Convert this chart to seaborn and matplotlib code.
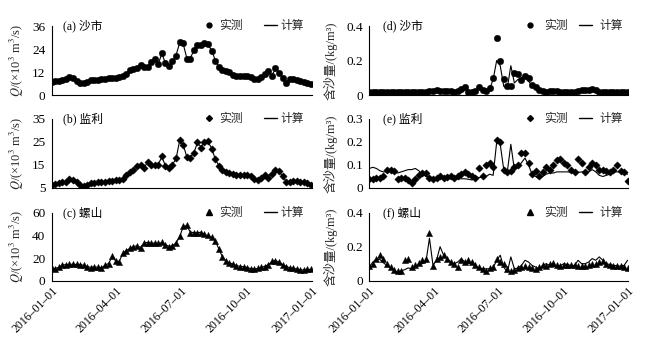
import numpy as np
import pandas as pd
import matplotlib
matplotlib.use("Agg")
import matplotlib.pyplot as plt
from matplotlib.lines import Line2D
import seaborn as sns

sns.set_theme(style="white")
plt.rcParams["font.family"] = ["Liberation Serif", "Noto Sans CJK SC"]
plt.rcParams["mathtext.fontset"] = "stix"
plt.rcParams["axes.unicode_minus"] = False

# ---------------- data (sampled every 5 days from 2016-01-01) ----------------
day_offsets = list(range(0, 366, 5))

q_shashi_obs = [7.0, 7.2, 7.5, 7.8, 8.2, 9.5, 9.0, 7.5, 6.3, 6.2,
                7.0, 7.6, 8.0, 8.0, 8.2, 8.5, 8.8, 8.8, 8.8, 9.2,
                10.0, 11.0, 12.8, 13.5, 14.0, 15.8, 14.5, 14.5, 17.0, 18.8,
                16.0, 22.0, 16.5, 15.0, 17.5, 20.5, 27.5, 27.0, 19.0, 19.0,
                23.5, 26.0, 26.0, 27.0, 26.5, 23.0, 18.0, 14.5, 13.0, 12.5,
                12.0, 10.5, 10.0, 10.0, 10.0, 10.0, 9.5, 8.5, 8.5, 9.5,
                11.0, 12.5, 10.0, 14.0, 11.5, 9.0, 6.5, 8.5, 8.5, 8.0,
                7.5, 7.0, 6.5, 6.0]
q_shashi_cal = [6.8, 7.1, 7.4, 7.9, 8.4, 9.3, 8.8, 7.2, 6.1, 6.3,
                7.1, 7.7, 7.9, 8.1, 8.3, 8.6, 8.7, 8.9, 8.9, 9.4,
                10.3, 11.4, 12.6, 13.3, 14.3, 15.5, 14.6, 14.8, 16.8, 18.5,
                16.3, 21.5, 16.8, 15.3, 17.2, 20.8, 27.0, 26.8, 19.5, 19.3,
                23.0, 25.6, 26.2, 26.8, 26.2, 23.4, 18.4, 14.8, 13.2, 12.4,
                11.8, 10.7, 10.2, 10.1, 9.9, 9.8, 9.3, 8.7, 8.6, 9.7,
                11.2, 12.2, 10.4, 13.6, 11.8, 9.2, 6.8, 8.3, 8.4, 7.9,
                7.4, 7.1, 6.6, 6.1]

q_jianli_obs = [6.5, 6.8, 7.2, 7.5, 7.8, 9.0, 8.5, 7.5, 6.5, 6.0,
                6.5, 7.0, 7.2, 7.5, 7.5, 7.8, 8.0, 8.2, 8.5, 8.5,
                9.0, 10.5, 12.0, 13.0, 14.5, 15.0, 13.5, 16.5, 15.0, 15.0,
                15.0, 19.0, 14.5, 13.5, 15.0, 18.0, 26.0, 23.5, 18.5, 18.0,
                20.0, 25.0, 22.5, 25.0, 25.5, 22.0, 17.5, 14.5, 13.0, 12.0,
                11.5, 11.0, 10.5, 10.5, 10.5, 10.5, 10.0, 9.0, 8.5, 9.5,
                10.5, 9.5, 11.0, 13.0, 12.5, 10.0, 7.5, 7.5, 8.0, 8.0,
                7.5, 7.5, 7.0, 6.5]
q_jianli_cal = [6.3, 6.9, 7.0, 7.6, 7.9, 8.8, 8.6, 7.3, 6.4, 6.1,
                6.6, 7.1, 7.3, 7.4, 7.6, 7.9, 8.1, 8.3, 8.4, 8.6,
                9.2, 10.8, 11.8, 13.2, 14.2, 14.8, 13.8, 16.2, 15.2, 14.8,
                15.3, 18.5, 14.8, 13.8, 15.3, 17.6, 25.5, 23.8, 18.8, 18.3,
                20.3, 24.5, 23.0, 24.6, 25.0, 22.4, 17.8, 14.8, 13.2, 12.1,
                11.6, 11.1, 10.6, 10.4, 10.6, 10.3, 9.8, 9.1, 8.7, 9.7,
                10.3, 9.8, 11.2, 12.7, 12.3, 10.2, 7.8, 7.6, 7.9, 8.1,
                7.6, 7.4, 7.1, 6.6]

q_luoshan_obs = [11.0, 10.5, 12.0, 13.5, 14.0, 14.5, 14.5, 14.5, 14.0, 14.0,
                 12.0, 11.5, 12.5, 12.0, 11.0, 14.0, 15.0, 22.0, 17.0, 16.5,
                 24.5, 26.5, 28.5, 30.0, 31.0, 29.0, 33.5, 33.5, 33.0, 33.0,
                 33.0, 34.0, 31.5, 30.0, 31.0, 33.0, 39.0, 48.0, 49.0, 42.5,
                 42.0, 42.5, 42.5, 41.0, 40.0, 38.5, 35.0, 28.0, 21.0, 17.0,
                 16.0, 14.5, 13.0, 12.5, 12.5, 11.5, 10.5, 10.0, 11.0, 12.0,
                 12.5, 14.0, 17.0, 17.5, 16.5, 14.0, 12.5, 11.5, 11.0, 10.0,
                 9.5, 9.5, 10.0, 10.0]
q_luoshan_cal = [10.8, 10.8, 11.8, 13.8, 14.2, 14.3, 14.6, 14.3, 14.2, 13.6,
                 12.3, 11.8, 12.3, 11.8, 11.3, 13.6, 15.2, 21.0, 17.5, 16.8,
                 24.0, 26.8, 28.3, 30.3, 30.6, 29.4, 33.2, 33.8, 32.8, 33.3,
                 32.7, 33.6, 31.8, 30.4, 30.8, 33.4, 38.5, 47.5, 48.6, 43.0,
                 42.3, 42.2, 42.8, 40.8, 39.6, 38.2, 35.4, 28.5, 21.5, 17.4,
                 15.8, 14.7, 13.2, 12.7, 12.3, 11.6, 10.7, 10.2, 10.8, 11.8,
                 12.7, 14.2, 16.7, 17.8, 16.3, 14.3, 12.7, 11.3, 11.2, 10.2,
                 9.6, 9.4, 9.9, 10.1]

s_shashi_obs = [0.02, 0.02, 0.02, 0.02, 0.02, 0.02, 0.018, 0.018, 0.018, 0.018,
                0.018, 0.018, 0.018, 0.018, 0.02, 0.02, 0.02, 0.022, 0.025, 0.03,
                0.025, 0.025, 0.025, 0.022, 0.018, 0.025, 0.035, 0.045, 0.02, 0.02,
                0.025, 0.045, 0.03, 0.025, 0.04, 0.10, 0.33, 0.20, 0.09, 0.055,
                0.05, 0.13, 0.12, 0.085, 0.11, 0.10, 0.06, 0.045, 0.03, 0.025,
                0.02, 0.025, 0.025, 0.025, 0.02, 0.02, 0.02, 0.02, 0.02, 0.025,
                0.03, 0.03, 0.03, 0.035, 0.03, 0.02, 0.02, 0.02, 0.02, 0.018,
                0.015, 0.015, 0.015, 0.015]
s_shashi_cal = [0.01, 0.01, 0.012, 0.012, 0.01, 0.01, 0.01, 0.01, 0.01, 0.01,
                0.01, 0.01, 0.01, 0.012, 0.012, 0.015, 0.015, 0.015, 0.018, 0.02,
                0.02, 0.02, 0.02, 0.018, 0.015, 0.02, 0.03, 0.04, 0.02, 0.018,
                0.02, 0.04, 0.03, 0.025, 0.035, 0.09, 0.20, 0.17, 0.05, 0.04,
                0.17, 0.07, 0.09, 0.10, 0.12, 0.08, 0.055, 0.04, 0.028, 0.022,
                0.018, 0.02, 0.02, 0.02, 0.018, 0.015, 0.015, 0.015, 0.015, 0.02,
                0.025, 0.025, 0.025, 0.03, 0.025, 0.018, 0.015, 0.015, 0.012, 0.012,
                0.01, 0.01, 0.01, 0.01]

s_jianli_obs = [0.04, 0.04, 0.045, 0.045, 0.05, 0.08, 0.08, 0.075, 0.04, 0.045,
                0.045, 0.035, 0.02, 0.04, 0.055, 0.065, 0.065, 0.045, 0.04, 0.045,
                0.05, 0.045, 0.048, 0.05, 0.045, 0.05, 0.06, 0.07, 0.06, 0.05,
                0.045, 0.085, 0.05, 0.10, 0.11, 0.09, 0.21, 0.20, 0.08, 0.07,
                0.075, 0.09, 0.10, 0.15, 0.15, 0.11, 0.06, 0.075, 0.05, 0.07,
                0.09, 0.08, 0.10, 0.12, 0.125, 0.11, 0.10, 0.08, 0.07, 0.125,
                0.11, 0.07, 0.09, 0.11, 0.10, 0.08, 0.08, 0.075, 0.07, 0.08,
                0.10, 0.075, 0.07, 0.03]
s_jianli_cal = [0.085, 0.09, 0.085, 0.075, 0.07, 0.07, 0.08, 0.07, 0.065, 0.07,
                0.075, 0.08, 0.08, 0.085, 0.075, 0.06, 0.05, 0.048, 0.045, 0.045,
                0.045, 0.042, 0.04, 0.04, 0.04, 0.04, 0.04, 0.04, 0.038, 0.035,
                0.05, 0.045, 0.048, 0.05, 0.06, 0.055, 0.20, 0.19, 0.08, 0.07,
                0.19, 0.08, 0.09, 0.11, 0.13, 0.10, 0.06, 0.05, 0.04, 0.05,
                0.06, 0.065, 0.065, 0.07, 0.07, 0.07, 0.07, 0.068, 0.065, 0.068,
                0.07, 0.07, 0.07, 0.08, 0.07, 0.055, 0.05, 0.055, 0.06, 0.07,
                0.07, 0.07, 0.065, 0.06]

s_luoshan_obs = [0.085, 0.10, 0.13, 0.15, 0.13, 0.10, 0.08, 0.065, 0.055, 0.055,
                 0.12, 0.125, 0.08, 0.095, 0.105, 0.12, 0.13, 0.28, 0.085, 0.13,
                 0.14, 0.15, 0.125, 0.11, 0.10, 0.08, 0.12, 0.11, 0.12, 0.11,
                 0.09, 0.08, 0.07, 0.06, 0.075, 0.08, 0.13, 0.11, 0.10, 0.07,
                 0.06, 0.065, 0.075, 0.08, 0.085, 0.08, 0.075, 0.07, 0.08, 0.09,
                 0.085, 0.10, 0.105, 0.09, 0.085, 0.09, 0.095, 0.09, 0.09, 0.085,
                 0.085, 0.085, 0.09, 0.10, 0.10, 0.11, 0.115, 0.10, 0.09, 0.085,
                 0.085, 0.085, 0.08, 0.075]
s_luoshan_cal = [0.08, 0.11, 0.125, 0.125, 0.105, 0.09, 0.075, 0.06, 0.05, 0.058,
                 0.065, 0.075, 0.07, 0.085, 0.095, 0.10, 0.11, 0.25, 0.09, 0.12,
                 0.20, 0.15, 0.13, 0.11, 0.10, 0.11, 0.13, 0.11, 0.10, 0.11,
                 0.085, 0.075, 0.07, 0.07, 0.07, 0.075, 0.12, 0.15, 0.08, 0.05,
                 0.14, 0.07, 0.075, 0.09, 0.12, 0.11, 0.09, 0.08, 0.07, 0.09,
                 0.10, 0.09, 0.085, 0.08, 0.09, 0.10, 0.095, 0.09, 0.09, 0.12,
                 0.10, 0.10, 0.11, 0.13, 0.12, 0.14, 0.12, 0.10, 0.095, 0.09,
                 0.088, 0.085, 0.09, 0.12]

panel_labels = ["(a) 沙市", "(b) 监利", "(c) 螺山", "(d) 沙市", "(e) 监利", "(f) 螺山"]
legend_labels = ["实测", "计算"]
q_ylabel = "$Q$/(×10$^3$ m$^3$/s)"
s_ylabel = "含沙量/(kg/m³)"
tick_dates = ["2016-01-01", "2016-04-01", "2016-07-01", "2016-10-01", "2017-01-01"]
tick_labels = ["2016–01–01", "2016–04–01", "2016–07–01", "2016–10–01", "2017–01–01"]
minor_dates = ["2016-01-01", "2016-03-01", "2016-05-01", "2016-07-01",
               "2016-09-01", "2016-11-01", "2017-01-01"]
q_yticks = [[0, 12, 24, 36], [5, 15, 25, 35], [0, 20, 40, 60]]
s_yticks = [[0, 0.2, 0.4], [0, 0.1, 0.2, 0.3], [0, 0.2, 0.4]]
s_yticklabels = [["0", "0.2", "0.4"], ["0", "0.1", "0.2", "0.3"], ["0", "0.2", "0.4"]]

# ---------------- figure ----------------
dates = pd.Timestamp("2016-01-01") + pd.to_timedelta(day_offsets, unit="D")
fig = plt.figure(figsize=(6.47, 3.44), dpi=100)

col_x = [0.0799, 0.5708]
col_w = [0.4019, 0.4003]
row_b = [0.7238, 0.4535, 0.1840]
row_h = [0.2006, 0.2006, 0.1977]

obs = [q_shashi_obs, q_jianli_obs, q_luoshan_obs, s_shashi_obs, s_jianli_obs, s_luoshan_obs]
cal = [q_shashi_cal, q_jianli_cal, q_luoshan_cal, s_shashi_cal, s_jianli_cal, s_luoshan_cal]
markers = ["o", "D", "^"]
msizes = [22, 14, 20]
leg_ms = [3.5, 3.0, 4.0]
font_list = ["Liberation Serif", "Noto Sans CJK SC"]

major = pd.to_datetime(tick_dates)
minor = pd.to_datetime(minor_dates)

for k in range(6):
    col, row = divmod(k, 3)
    ax = fig.add_axes([col_x[col], row_b[row], col_w[col], row_h[row]])
    df = pd.DataFrame({"date": dates, "obs": obs[k], "cal": cal[k]})
    sns.lineplot(data=df, x="date", y="cal", ax=ax, color="black", lw=0.8, zorder=3)
    sns.scatterplot(data=df, x="date", y="obs", ax=ax, color="black", marker=markers[row],
                    s=msizes[row], edgecolor="black", linewidth=0.3, zorder=2)
    ax.set_xlim(major[0], major[-1])
    if col == 0:
        ax.set_ylim(q_yticks[row][0], q_yticks[row][-1])
        ax.set_yticks(q_yticks[row])
        ax.set_yticklabels([str(v) for v in q_yticks[row]])
        ax.set_ylabel(q_ylabel, fontsize=9, labelpad=0)
        ax.yaxis.set_label_coords(-0.099, 0.5)
        ax.set_xticks(major)
        ax.tick_params(axis="x", which="major", direction="in", length=6, width=0.8)
    else:
        ax.set_ylim(s_yticks[row][0], s_yticks[row][-1])
        ax.set_yticks(s_yticks[row])
        ax.set_yticklabels(s_yticklabels[row])
        ax.set_ylabel(s_ylabel, fontsize=9, labelpad=0, family=font_list)
        ax.yaxis.set_label_coords(-0.121, 0.5)
        ax.set_xticks(major)
        ax.set_xticks(minor, minor=True)
        ax.tick_params(axis="x", which="major", direction="in", length=0)
        ax.tick_params(axis="x", which="minor", direction="in", length=6, width=0.8,
                       color="black")
    if row == 2:
        ax.set_xticklabels(tick_labels, rotation=45, ha="right",
                           rotation_mode="anchor", fontsize=8.5)
    else:
        ax.set_xticklabels([])
    ax.set_xlabel("")
    ax.tick_params(axis="y", direction="out", length=3, width=0.8, labelsize=9.5,
                   pad=1.5, color="black", labelcolor="black")
    ax.tick_params(axis="x", labelcolor="black", color="black", pad=3)
    for s in ["top", "right"]:
        ax.spines[s].set_visible(False)
    for s in ["left", "bottom"]:
        ax.spines[s].set_color("black")
        ax.spines[s].set_linewidth(0.8)
    ax.text(0.044 if col == 0 else 0.053, 1.0, panel_labels[k], transform=ax.transAxes,
            ha="left", va="center", fontsize=8.5, color="black", family=font_list)
    handles = [Line2D([], [], marker=markers[row], ls="none", color="black",
                      markersize=leg_ms[row]),
               Line2D([], [], color="black", lw=1.0)]
    if col == 0:
        leg_kw = dict(bbox_to_anchor=(0.97, 1.0), handletextpad=0.3, columnspacing=1.8)
    else:
        leg_kw = dict(bbox_to_anchor=(0.978, 1.0), handletextpad=0.6, columnspacing=1.0)
    ax.legend(handles, legend_labels, ncol=2, frameon=False, loc="center right",
              handlelength=1.1, borderpad=0, borderaxespad=0,
              prop={"size": 8.5, "family": font_list}, **leg_kw)

fig.savefig("out.png", dpi=100)
